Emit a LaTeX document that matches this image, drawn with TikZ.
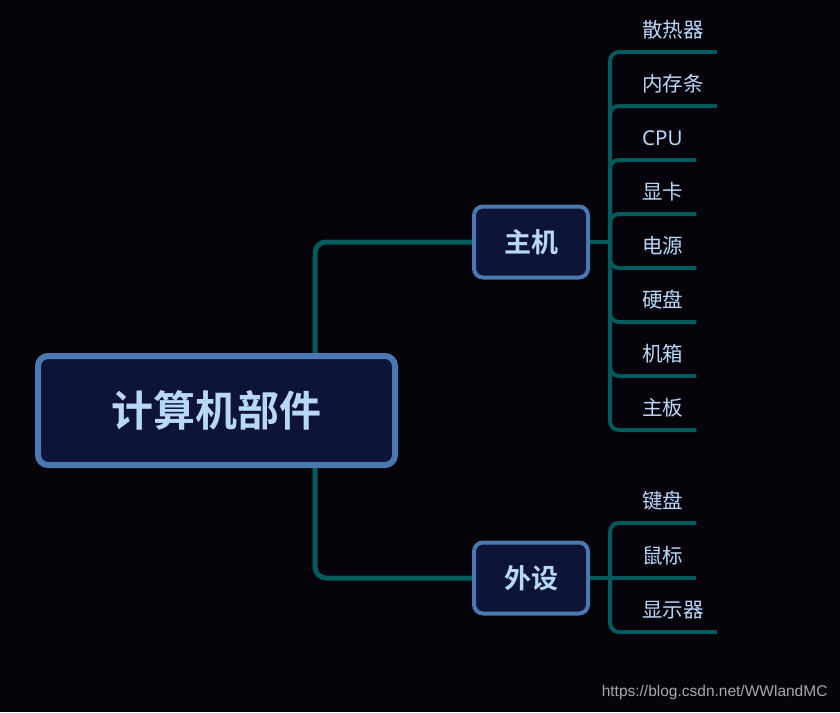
\documentclass[tikz,border=0pt]{standalone}
\usepackage{fontspec}
\setsansfont{Liberation Sans}
\newfontfamily\cjk{Noto Sans CJK SC}[BoldFont={* Bold}]
\newfontfamily\latin{Noto Sans}
\usepackage{tikz}
\usetikzlibrary{calc}
\usepackage{xcolor}

\definecolor{bgdark}{HTML}{07030B}
\definecolor{nodefill}{HTML}{0E1338}
\definecolor{nodeedge}{HTML}{4A78B0}
\definecolor{twigteal}{HTML}{005A5E}
\definecolor{textblue}{HTML}{B8D8F8}
\definecolor{markgray}{HTML}{A8A8A8}

\pgfdeclarelayer{back}
\pgfdeclarelayer{lines}
\pgfsetlayers{back,lines,main}

\begin{document}
\begin{tikzpicture}[
  x=1pt, y=-1pt,
  root/.style={rectangle, draw=nodeedge, fill=nodefill, line width=6pt, rounded corners=10pt,
               minimum width=357pt, minimum height=109pt, text=textblue,
               font=\cjk\bfseries\fontsize{42}{50}\selectfont},
  part/.style={rectangle, draw=nodeedge, fill=nodefill, line width=4pt, rounded corners=9pt,
               minimum width=114pt, minimum height=71pt, text=textblue,
               font=\cjk\bfseries\fontsize{27}{32}\selectfont},
  leaf/.style={anchor=west, inner sep=0pt, text=textblue, font=\cjk\fontsize{20.5}{24}\selectfont},
  branch/.style={draw=twigteal, line width=5pt, rounded corners=11pt},
  twig/.style={draw=twigteal, line width=4pt, rounded corners=9pt}
]
  \begin{pgfonlayer}{back}
    \fill[bgdark] (0,0) rectangle (840,712);
  \end{pgfonlayer}
  \useasboundingbox (0,0) rectangle (840,712);

  \node[root] (root)   at (216.5, 410.5) {计算机部件};
  \node[part] (host)   at (531, 242) {主机};
  \node[part] (periph) at (531, 578) {外设};

  % Leaves of the host
  \node[leaf] (fan)   at (642, 30)  {散热器};
  \node[leaf] (ram)   at (642, 84)  {内存条};
  \node[leaf] (cpu)   at (642, 138) {\latin CPU};
  \node[leaf] (gpu)   at (642, 192) {显卡};
  \node[leaf] (psu)   at (642, 246) {电源};
  \node[leaf] (disk)  at (642, 300) {硬盘};
  \node[leaf] (case)  at (642, 354) {机箱};
  \node[leaf] (board) at (642, 408) {主板};

  % Leaves of the peripherals
  \node[leaf] (keys)   at (642, 501) {键盘};
  \node[leaf] (mouse)  at (642, 556) {鼠标};
  \node[leaf] (screen) at (642, 610) {显示器};

  \node[font=\sffamily\fontsize{15.5}{18}\selectfont, text=markgray, anchor=east] (mark)
    at (831, 692) {https://blog.csdn.net/WWlandMC};

  \begin{pgfonlayer}{lines}
    \draw[branch] ([xshift=98.5pt]root.center) |- (host.west);
    \draw[branch] ([xshift=98.5pt]root.center) |- (periph.west);

    \coordinate (hostbus)   at ([xshift=20pt]host.east);
    \coordinate (periphbus) at ([xshift=20pt]periph.east);

    \draw[twig] (host.east) -- (hostbus);
    \draw[twig] (hostbus) |- ([shift={(13,22)}]fan.east);
    \draw[twig] (hostbus) |- ([shift={(13,22)}]ram.east);
    \draw[twig] (hostbus) |- ([shift={(13,22)}]cpu.east);
    \draw[twig] (hostbus) |- ([shift={(13,22)}]gpu.east);
    \draw[twig] (hostbus) |- ([shift={(13,22)}]psu.east);
    \draw[twig] (hostbus) |- ([shift={(13,22)}]disk.east);
    \draw[twig] (hostbus) |- ([shift={(13,22)}]case.east);
    \draw[twig] (hostbus) |- ([shift={(13,22)}]board.east);

    \draw[twig] (periph.east) -- ([shift={(13,22)}]mouse.east);
    \draw[twig] (periphbus) |- ([shift={(13,22)}]keys.east);
    \draw[twig] (periphbus) |- ([shift={(13,22)}]screen.east);
  \end{pgfonlayer}
\end{tikzpicture}
\end{document}
